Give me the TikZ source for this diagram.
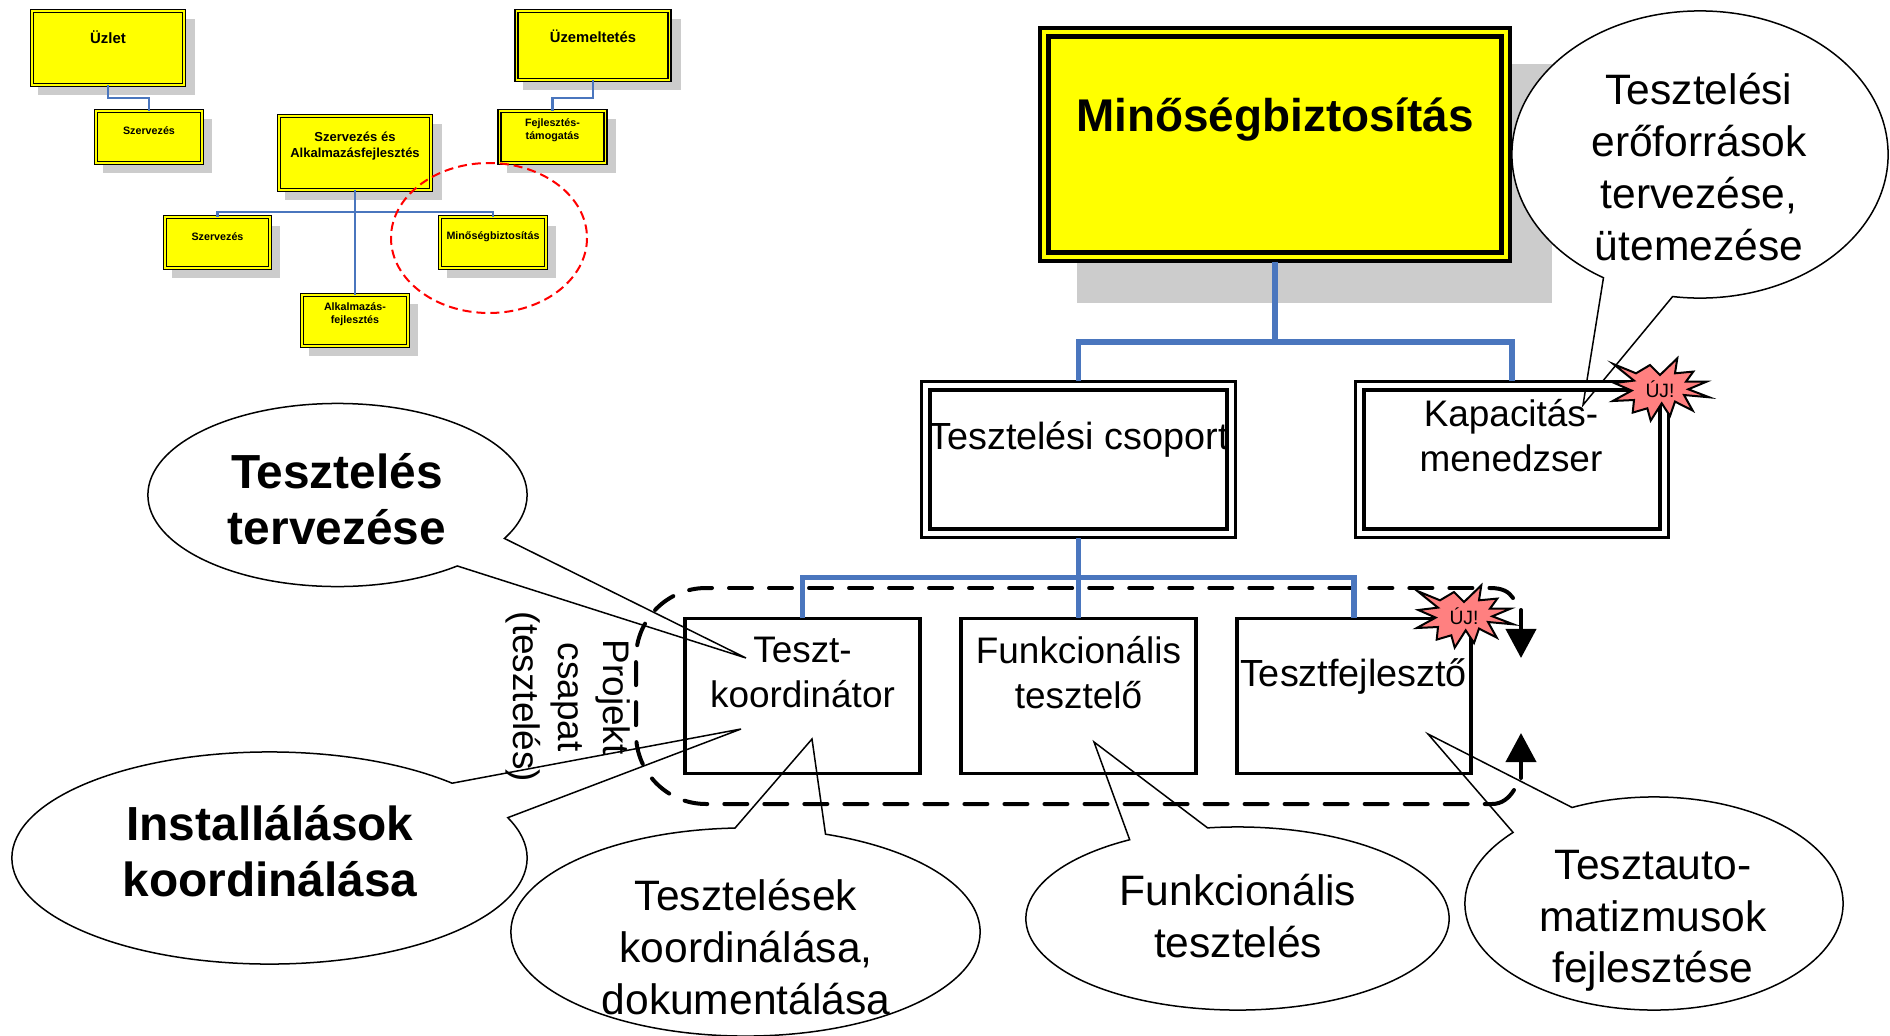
\documentclass[tikz,border=0pt]{standalone}
\usepackage{fontspec}
\setmainfont{Liberation Sans}
\usetikzlibrary{arrows.meta,shapes.callouts,shadows}
\definecolor{kek}{HTML}{4A76BE}
\definecolor{arnyek}{HTML}{CCCCCC}
\definecolor{csillag}{HTML}{FF8080}
\definecolor{sarga}{RGB}{255,255,0}
\newcommand{\betu}[2]{\fontsize{#1}{#2}\selectfont}
\tikzset{
    kisdoboz/.style={draw,fill=sarga,double=sarga,line width=0.4pt,double distance=0.4pt,inner sep=0,outer sep=0,
        general shadow={fill=arnyek,shadow scale=1.03,shadow xshift=0.085cm,shadow yshift=-0.09cm}},
    kisszoveg/.style={font=\bfseries\betu{3.05}{3.7},align=center,inner sep=0},
    kisvonal/.style={kek,line width=0.8pt},
    nagyvonal/.style={kek,line width=0.055cm},
    fehdoboz/.style={draw,double=white,line width=0.035cm,double distance=0.05cm,inner sep=0,outer sep=0.05cm},
    szimpla/.style={draw,line width=0.035cm,inner sep=0,outer sep=0,minimum width=2.35cm,minimum height=1.55cm},
    szoveg/.style={font=\betu{10.5}{12.9},align=center,inner sep=0},
    buborek/.style={ellipse callout,draw,fill=white,line width=0.015cm,inner sep=0,outer sep=0,callout pointer arc=22.5},
    bubszoveg/.style={font=\betu{12.1}{14.7},align=center,inner sep=0},
    vastag/.style={font=\bfseries\betu{13.6}{15.9},align=center,inner sep=0},
    csapat/.style={line width=0.04cm,line cap=round},
    csapatszag/.style={csapat,dash pattern=on 0.23cm off 0.17cm},
    csapatnyil/.style={csapat,-{Triangle[length=0.29cm,width=0.3cm]}},
    ujcsillag/.pic={
        \draw[fill=csillag,line width=0.02cm,line join=miter] (-46.7,-25.3)--(-24,-16)--(-10,-24.3)--(0,-14.3)--(17.3,-31)--(15,-16)--(33.3,-17.7)--(26,-7.7)--(46.7,-7.7)--(28.3,0)--(49.3,8)--(24,5.7)--(32.7,21.3)--(15,12.3)--(10,26.7)--(1.7,14)--(-9.3,31.3)--(-12.7,19)--(-27.3,23.3)--(-26,10.7)--(-47.3,11.7)--(-28.3,1.3)--(-45.7,-6.3)--(-26,-8.7)--cycle;
        \node (-felirat) at (0,0)[font=\betu{5.5}{6.6},inner sep=0]{ÚJ!};
    }
}
\begin{document}
\begin{tikzpicture}[x=0.01cm,y=-0.01cm]
    \useasboundingbox (0,0) rectangle (1890,1036);

    \node (uzlet) at (108,48)[kisdoboz,minimum width=1.52cm,minimum height=0.74cm]{};
    \node (szervfent) at (149,137)[kisdoboz,minimum width=1.06cm,minimum height=0.52cm]{};
    \node (uzemelt) at (593,45.5)[kisdoboz,minimum width=1.53cm,minimum height=0.69cm]{};
    \node (fejltam) at (552.5,137)[kisdoboz,minimum width=1.06cm,minimum height=0.52cm]{};
    \node (szervalk) at (355,153)[kisdoboz,minimum width=1.52cm,minimum height=0.74cm]{};
    \node (szervlent) at (217.5,242.5)[kisdoboz,minimum width=1.05cm,minimum height=0.51cm]{};
    \node (miniminoseg) at (493,242.5)[kisdoboz,minimum width=1.06cm,minimum height=0.51cm]{};
    \node (alkfejl) at (355,320.5)[kisdoboz,minimum width=1.06cm,minimum height=0.51cm]{};
    \draw[kisvonal] (uzlet.south)--++(0,13)-|(szervfent.north);
    \draw[kisvonal] (uzemelt.south)--++(0,18)-|(fejltam.north);
    \draw[kisvonal] (szervalk.south)--(alkfejl.north);
    \draw[kisvonal] (szervlent.north)--++(0,-5)-|(miniminoseg.north);
    \node (uzletsz) at (108,37)[kisszoveg,font=\bfseries\betu{4.25}{5}]{Üzlet};
    \node (uzemeltsz) at (593,36)[kisszoveg,font=\bfseries\betu{4.2}{5}]{Üzemeltetés};
    \node (szervfentsz) at (149,130.5)[kisszoveg]{Szervezés};
    \node (fejltamsz) at (552.5,130.5)[kisszoveg]{Fejlesztés-\\támogatás};
    \node (szervalksz) at (355,146)[kisszoveg,font=\bfseries\betu{3.7}{4.6}]{Szervezés és\\Alkalmazásfejlesztés};
    \node (szervlentsz) at (217.5,237)[kisszoveg]{Szervezés};
    \node (miniminosegsz) at (493,237)[kisszoveg]{Minőségbiztosítás};
    \node (alkfejlsz) at (355,314.5)[kisszoveg]{Alkalmazás-\\fejlesztés};
    \draw[red,dashed,line width=0.02cm,dash pattern=on 0.09cm off 0.05cm] (489,238) ellipse [x radius=98,y radius=75];

    \fill[arnyek] (1077,64) rectangle (1552,303);
    \node (minoseg) at (1275,144.5)[draw,fill=sarga,double=sarga,line width=0.045cm,double distance=0.04cm,inner sep=0,outer sep=0.05cm,minimum width=4.61cm,minimum height=2.24cm]{};
    \node (minosegsz) at (1275,120)[font=\bfseries\betu{13.05}{15},inner sep=0]{Minőségbiztosítás};

    \node (buberoforras) at (1700,154.5)[buborek,minimum width=3.76cm,minimum height=2.87cm,callout absolute pointer={(1583,405)}]{};
    \node (buberoforrassz) at (1699,167)[bubszoveg,font=\betu{12.1}{14.7}]{Tesztelési\\erőforrások\\tervezése,\\ütemezése};
    \node (bubterv) at (337.5,495)[buborek,minimum width=3.79cm,minimum height=1.83cm,callout absolute pointer={(746,658)}]{};
    \node (bubtervsz) at (337,499)[vastag]{Tesztelés\\tervezése};
    \node (bubinst) at (269.5,858)[buborek,minimum width=5.15cm,minimum height=2.12cm,callout absolute pointer={(741,729)}]{};
    \node (bubinstsz) at (270,851)[vastag]{Installálások\\koordinálása};
    \node (bubkoord) at (745.5,932)[buborek,minimum width=4.69cm,minimum height=2.08cm,callout absolute pointer={(812,739)}]{};
    \node (bubkoordsz) at (746,947)[bubszoveg]{Tesztelések\\koordinálása,\\dokumentálása};
    \node (bubfunk) at (1237.5,918.5)[buborek,minimum width=4.23cm,minimum height=1.83cm,callout absolute pointer={(1094,742)}]{};
    \node (bubfunksz) at (1238,916)[bubszoveg]{Funkcionális\\tesztelés};
    \node (bubauto) at (1654,903.5)[buborek,minimum width=3.78cm,minimum height=2.13cm,callout absolute pointer={(1428,734)}]{};
    \node (bubautosz) at (1653,921)[bubszoveg]{Tesztauto-\\matizmusok\\fejlesztése};

    \node (projektsz) at (568,697)[szoveg,rotate=-90]{Projekt\\csapat\\(tesztelés)};

    \node (csoport) at (1078.5,459.5)[fehdoboz,minimum width=3.05cm,minimum height=1.47cm]{};
    \node (kapacitas) at (1512,459.5)[fehdoboz,minimum width=3.04cm,minimum height=1.47cm]{};
    \node (koord) at (802.5,696)[szimpla]{};
    \node (funkc) at (1078.5,696)[szimpla]{};
    \node (fejleszto) at (1354,696)[szimpla,minimum width=2.34cm]{};
    \node (csoportsz) at (1078.5,439)[szoveg,font=\betu{10.75}{13}]{Tesztelési csoport};
    \node (kapacitassz) at (1511,435.5)[szoveg]{Kapacitás-\\menedzser};
    \node (koordsz) at (802.5,672.5)[szoveg]{Teszt-\\koordinátor};
    \node (funkcsz) at (1078.5,672.5)[szoveg]{Funkcionális\\tesztelő};
    \node (fejlesztosz) at (1353.5,676)[szoveg,font=\betu{10.75}{13}]{Tesztfejlesztő};

    \coordinate (nyilalul) at (1521,733);
    \coordinate (nyilfelul) at (1521,658);
    \draw[csapatszag] (729,588)--(1490,588);
    \draw[csapatszag,rounded corners=0.7cm] (712,588)--(636,588)--(636,804)--(1492,804);
    \draw[csapat] (1490,588) .. controls (1503,588) and (1509,592) .. (1513,598);
    \draw[csapat] (1492,804) .. controls (1502,804) and (1509,798) .. (1514,790);
    \draw[csapatnyil] (1521,610)--(nyilfelul);
    \draw[csapatnyil] (1521,778)--(nyilalul);

    \draw[nagyvonal] (minoseg.south)--(1275,342);
    \draw[nagyvonal] (csoport.north)--++(0,-39)-|(kapacitas.north);
    \draw[nagyvonal] (csoport.south)--(funkc.north);
    \draw[nagyvonal] (koord.north)--++(0,-41)-|(fejleszto.north);

    \pic (ujkapacitas) at (1660,389.3) {ujcsillag};
    \pic (ujfejleszto) at (1464,616.3) {ujcsillag};
\end{tikzpicture}
\end{document}
